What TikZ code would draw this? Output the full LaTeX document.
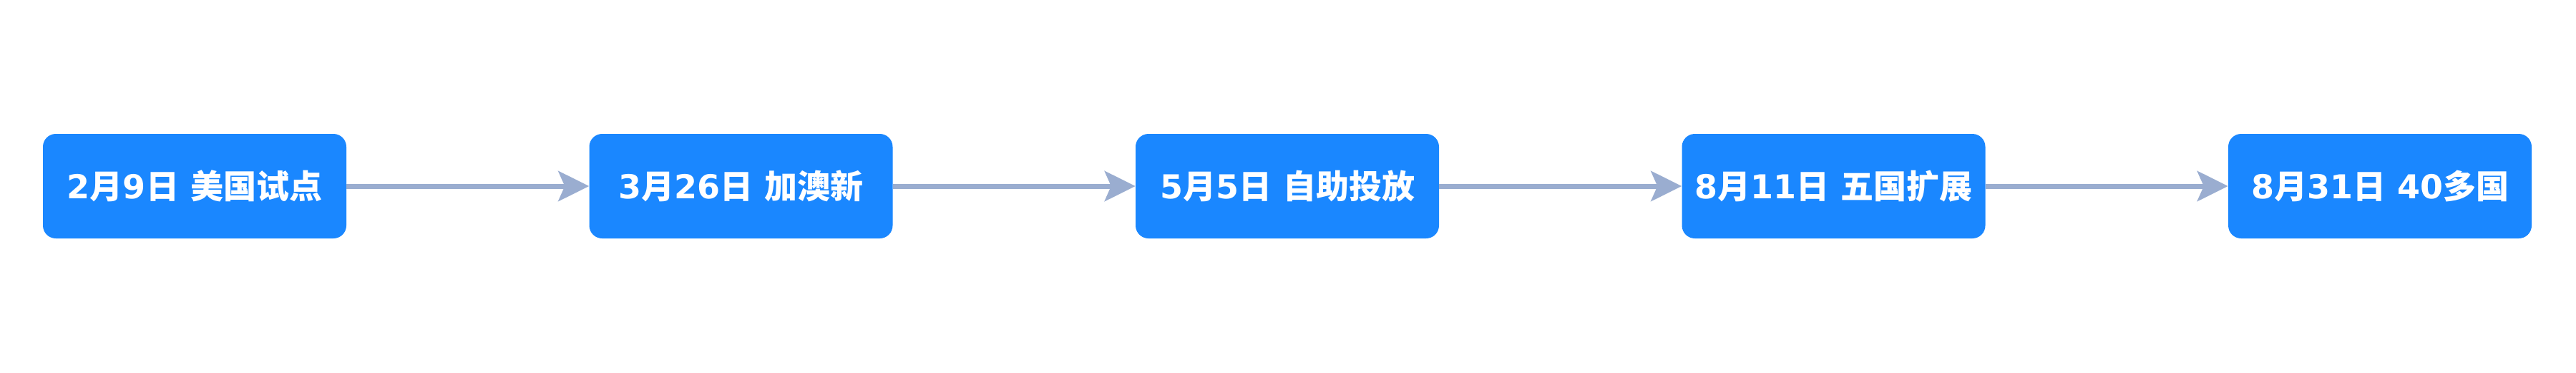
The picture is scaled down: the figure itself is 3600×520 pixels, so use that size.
\documentclass[tikz,border=0pt]{standalone}
\usepackage{fontspec}
\newfontfamily\cjk{Noto Sans CJK SC Bold}
\newfontfamily\latn{DejaVu Sans}
\newcommand{\zh}[1]{{\cjk #1}}
\usetikzlibrary{arrows.meta}
\definecolor{boxblue}{RGB}{26,135,255}
\definecolor{arrowgrey}{RGB}{154,173,208}
\tikzset{
  stepbox/.style={fill=boxblue, rounded corners=18pt, minimum width=424pt, minimum height=146pt, inner sep=0pt,
    text=white, font=\latn\bfseries\fontsize{46pt}{54pt}\selectfont},
  flow/.style={draw=arrowgrey, line width=7pt, -{Stealth[length=43pt, width=42pt, inset=9pt]}}
}
\begin{document}
\begin{tikzpicture}[x=1pt,y=1pt]
\useasboundingbox (0,0) rectangle (3600,-520);
\node[stepbox] (a) at (272,-260) {2\zh{月}9\zh{日} \zh{美国试点}};
\node[stepbox] (b) at (1035.5,-260) {3\zh{月}26\zh{日} \zh{加澳新}};
\node[stepbox] (c) at (1799,-260) {5\zh{月}5\zh{日} \zh{自助投放}};
\node[stepbox] (d) at (2562.5,-260) {8\zh{月}11\zh{日} \zh{五国扩展}};
\node[stepbox] (e) at (3326,-260) {8\zh{月}31\zh{日} 40\zh{多国}};
\draw[flow] (a) -- (b);
\draw[flow] (b) -- (c);
\draw[flow] (c) -- (d);
\draw[flow] (d) -- (e);
\end{tikzpicture}
\end{document}
